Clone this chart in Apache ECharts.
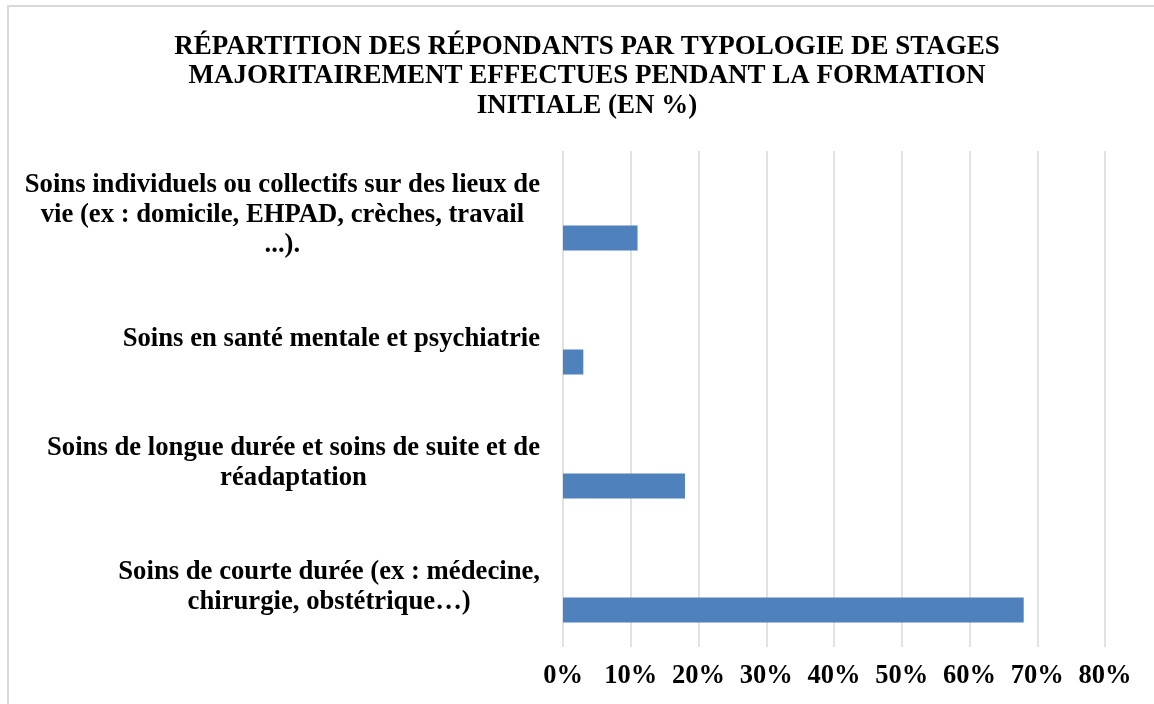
<!DOCTYPE html>
<html>
<head>
<meta charset="utf-8">
<script src="https://cdn.jsdelivr.net/npm/echarts@6/dist/echarts.min.js"></script>
<style>
html,body{margin:0;padding:0;background:#fff;}
#chart{width:1154px;height:704px;}
</style>
</head>
<body>
<div id="chart"></div>
<script>
// Categories listed bottom to top (as on the axis)
var categories = [
  'Soins de courte durée (ex : médecine,\nchirurgie, obstétrique…)',
  'Soins de longue durée et soins de suite et de\nréadaptation',
  'Soins en santé mentale et psychiatrie',
  'Soins individuels ou collectifs sur des lieux de\nvie (ex : domicile, EHPAD, crèches, travail\n...).'
];
var values = [68, 18, 3, 11];
var xTicks = { min: 0, max: 80, interval: 10 };
var titleText = 'RÉPARTITION DES RÉPONDANTS PAR TYPOLOGIE DE STAGES\nMAJORITAIREMENT EFFECTUES PENDANT LA FORMATION\nINITIALE (EN %)';

var FONT = "'Liberation Serif', 'Times New Roman', serif";
var chart = echarts.init(document.getElementById('chart'), null, {renderer: 'canvas'});
var option = {
  backgroundColor: '#ffffff',
  animation: false,
  graphic: [{
    type: 'rect',
    shape: { x: 8, y: 6, width: 1300, height: 900 },
    style: { fill: 'none', stroke: '#d9d9d9', lineWidth: 2 },
    silent: true
  }, {
    type: 'text',
    x: 587,
    y: 32,
    silent: true,
    style: {
      text: titleText,
      align: 'center',
      verticalAlign: 'top',
      fontFamily: FONT, fontWeight: 'bold', fontSize: 27, lineHeight: 29.5, fill: '#000'
    }
  }],
  grid: {
    left: 563, right: 49, top: 151, bottom: 57,
    containLabel: false, outerBoundsMode: 'none'
  },
  xAxis: {
    type: 'value',
    min: xTicks.min, max: xTicks.max, interval: xTicks.interval,
    axisLine: { show: false },
    axisTick: { show: false },
    splitLine: { show: true, lineStyle: { color: '#d9d9d9', width: 1.5 } },
    axisLabel: {
      formatter: '{value}%',
      margin: 16,
      fontFamily: FONT, fontWeight: 'bold', fontSize: 26.5, color: '#000'
    }
  },
  yAxis: {
    type: 'category',
    data: categories,
    axisLine: { show: false },
    axisTick: { show: false },
    splitLine: { show: false },
    axisLabel: {
      margin: 23,
      align: 'right',
      padding: [5, 0, 0, 0],
      formatter: function (v) { return '{c|' + v + '}'; },
      rich: {
        c: {
          align: 'center',
          fontFamily: FONT, fontWeight: 'bold', fontSize: 26.7, lineHeight: 30, color: '#000'
        }
      }
    }
  },
  series: [
    { type: 'bar', name: 'spacer1', data: [], barWidth: 25, barGap: '0%' },
    { type: 'bar', name: 'spacer2', data: [], barWidth: 25, barGap: '0%' },
    {
      type: 'bar', name: 'Répondants', data: values, barWidth: 25, barGap: '0%',
      itemStyle: { color: '#4f81bd' }
    }
  ]
};
chart.setOption(option);
</script>
</body>
</html>
